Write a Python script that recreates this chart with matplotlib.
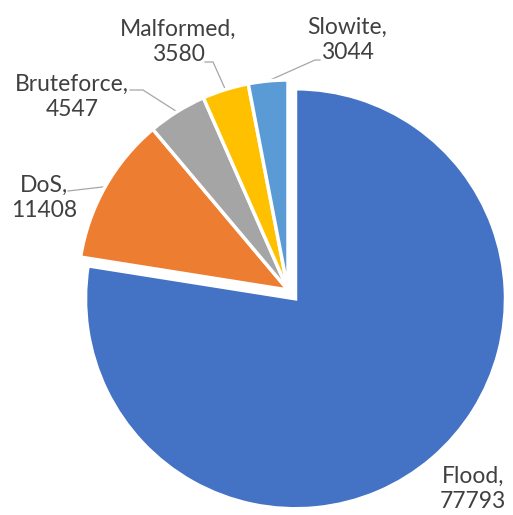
import numpy as np
import matplotlib.pyplot as plt

# attack classes and record counts
labels = ['Flood', 'DoS', 'Bruteforce', 'Malformed', 'Slowite']
counts = [77793, 11408, 4547, 3580, 3044]
colors = ['#4472C4', '#ED7D31', '#A5A5A5', '#FFC000', '#5B9BD5']

# pixel layout helpers (pie centre at 288,290, radius 210 px)
CX, CY, R = 288, 290, 210
W, H = 513, 515


def px(x, y):
    return (x - CX) / R, (CY - y) / R


# label centres and leader line start/elbow points, in pixels
label_pos = {'Flood': (473, 489), 'DoS': (44, 198), 'Bruteforce': (72, 97),
             'Malformed': (178, 42), 'Slowite': (347, 40)}
leaders = {'DoS': [(68, 191)],
           'Bruteforce': [(130, 90), (143, 90)],
           'Malformed': [(205, 62), (213, 62)],
           'Slowite': [(320, 60), (315, 60)]}

fig = plt.figure(figsize=(W / 100, H / 100), dpi=100)
ax = fig.add_axes([0, 0, 1, 1])
explode = [0.055, 0, 0, 0, 0]
wedges, _ = ax.pie(counts, colors=colors, startangle=90, counterclock=False,
                   explode=explode, radius=1,
                   wedgeprops=dict(edgecolor='white', linewidth=2.5))
ax.set_xlim((0 - CX) / R, (W - CX) / R)
ax.set_ylim((CY - H) / R, CY / R)
ax.set_aspect('equal')
ax.axis('off')

for lab, val, w in zip(labels, counts, wedges):
    x, y = px(*label_pos[lab])
    ax.text(x, y, f'{lab},\n{val}', ha='center', va='center', fontsize=16.5,
            color='#404040', family='Lato', linespacing=1.25)
    if lab in leaders:
        mid = np.deg2rad((w.theta1 + w.theta2) / 2)
        pts = [px(*p) for p in leaders[lab]] + [(np.cos(mid), np.sin(mid))]
        xs, ys = zip(*pts)
        ax.plot(xs, ys, color='#A6A6A6', lw=0.9, zorder=0)

fig.savefig('out.png', dpi=100)
